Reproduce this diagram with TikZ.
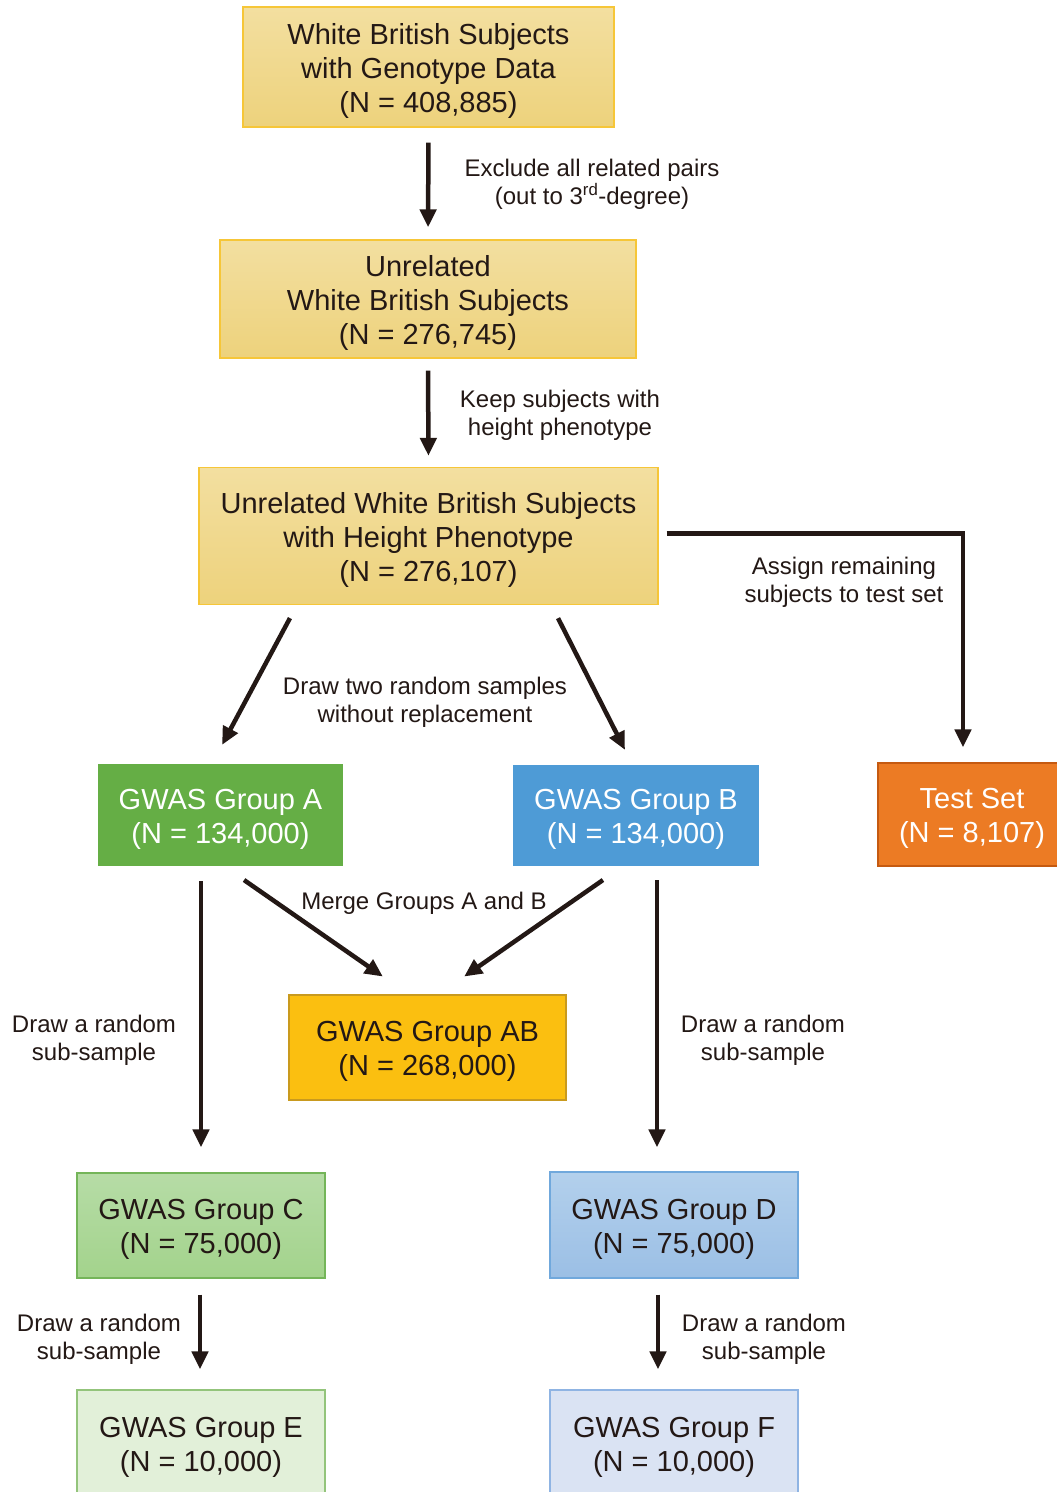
\documentclass[tikz,border=0pt]{standalone}
\usepackage{fontspec}
\setmainfont{Liberation Sans}
\usetikzlibrary{arrows.meta,calc}
\definecolor{ink}{HTML}{231815}
\definecolor{ylTop}{HTML}{F3DFA0}
\definecolor{ylBot}{HTML}{EDD27C}
\definecolor{ylLine}{HTML}{F6C638}
\definecolor{grA}{HTML}{65AE45}
\definecolor{blB}{HTML}{4E9BD6}
\definecolor{orT}{HTML}{EC7B24}
\definecolor{orLine}{HTML}{C55A11}
\definecolor{gold}{HTML}{FBBF10}
\definecolor{goldLine}{HTML}{C99A1E}
\definecolor{grCt}{HTML}{B6DCA6}
\definecolor{grCb}{HTML}{A3D38C}
\definecolor{grCl}{HTML}{74B559}
\definecolor{blDt}{HTML}{B3D0EC}
\definecolor{blDb}{HTML}{9BBFE5}
\definecolor{blDl}{HTML}{70A8DC}
\definecolor{grE}{HTML}{E2F0D9}
\definecolor{grEl}{HTML}{93C47B}
\definecolor{blF}{HTML}{DAE3F3}
\definecolor{blFl}{HTML}{8FB4E3}
\newcommand{\bstrut}{\rule{0pt}{28pt}}
\newcommand{\lstrut}{\rule{0pt}{21.5pt}}
\tikzset{
  box/.style={rectangle, draw, line width=1.3pt, align=center, text=ink,
    inner sep=0pt, font=\fontsize{29}{34}\selectfont},
  ybox/.style={box, top color=ylTop, bottom color=ylBot, draw=ylLine},
  lbl/.style={align=center, text=ink, inner sep=0pt, font=\fontsize{24}{28}\selectfont},
  arr/.style={draw=ink, line width=4.5pt, -{Triangle[width=16pt,length=18pt]}},
}
\begin{document}
\begin{tikzpicture}[x=1pt,y=-1pt]
\clip (0,0) rectangle (1057,1492);
\fill[white] (0,0) rectangle (1057,1492);
% boxes
\node[ybox, minimum width=371pt, minimum height=120pt] (n1) at (428.5,67)
  {\bstrut White British Subjects\\with Genotype Data\\(N = 408,885)};
\node[ybox, minimum width=416pt, minimum height=118pt] (n2) at (428,299)
  {\bstrut Unrelated\\White British Subjects\\(N = 276,745)};
\node[ybox, minimum width=459pt, minimum height=137pt] (n3) at (428.5,536)
  {\bstrut Unrelated White British Subjects\\with Height Phenotype\\(N = 276,107)};
\node[box, fill=grA, draw=grA, text=white, minimum width=243pt, minimum height=101pt] (nA) at (220.5,815)
  {\bstrut GWAS Group A\\(N = 134,000)};
\node[box, fill=blB, draw=blB, text=white, minimum width=244pt, minimum height=100pt] (nB) at (636,815.5)
  {\bstrut GWAS Group B\\(N = 134,000)};
\node[box, fill=orT, draw=orLine, text=white, minimum width=188pt, minimum height=103pt] (nT) at (972,814.5)
  {\bstrut Test Set\\(N = 8,107)};
\node[box, fill=gold, draw=goldLine, minimum width=277pt, minimum height=105pt] (nAB) at (427.5,1047.5)
  {\bstrut GWAS Group AB\\(N = 268,000)};
\node[box, top color=grCt, bottom color=grCb, draw=grCl, minimum width=248pt, minimum height=105pt] (nC) at (201,1225.5)
  {\bstrut GWAS Group C\\(N = 75,000)};
\node[box, top color=blDt, bottom color=blDb, draw=blDl, minimum width=248pt, minimum height=106pt] (nD) at (674,1225)
  {\bstrut GWAS Group D\\(N = 75,000)};
\node[box, fill=grE, draw=grEl, minimum width=248pt, minimum height=107pt] (nE) at (201,1443.5)
  {\bstrut GWAS Group E\\(N = 10,000)};
\node[box, fill=blF, draw=blFl, minimum width=248pt, minimum height=107pt] (nF) at (674,1443.5)
  {\bstrut GWAS Group F\\(N = 10,000)};
% labels
\node[lbl] (l1) at (592,182) {\lstrut Exclude all related pairs\\(out to 3\textsuperscript{rd}-degree)};
\node[lbl] (l2) at (560,413) {\lstrut Keep subjects with\\height phenotype};
\node[lbl] (l3) at (844,580) {\lstrut Assign remaining\\subjects to test set};
\node[lbl] (l4) at (425,700) {\lstrut Draw two random samples\\without replacement};
\node[lbl] (l5) at (424,901) {\lstrut Merge Groups A and B};
\node[lbl] (l6) at (94,1038.5) {\lstrut Draw a random\\sub-sample};
\node[lbl] (l7) at (763,1038.5) {\lstrut Draw a random\\sub-sample};
\node[lbl] (l8) at (99,1337) {\lstrut Draw a random\\sub-sample};
\node[lbl] (l9) at (764,1337) {\lstrut Draw a random\\sub-sample};
% connectors
\draw[arr, shorten <=15pt, shorten >=12pt] (n1.south) -- (n2.north);
\draw[arr, shorten <=12pt, shorten >=11pt] (n2.south) -- (n3.north);
\draw[arr, shorten <=14.7pt, shorten >=21.5pt] ([xshift=-131.6pt]n3.south) -- ([xshift=-8.6pt]nA.north);
\draw[arr, shorten <=14.6pt, shorten >=16.8pt] ([xshift=122.9pt]n3.south) -- ([xshift=-3.4pt]nB.north);
\draw[arr, shorten >=15pt, line join=miter] ([shift={(8,-2.5)}]n3.east) -| ([xshift=-9pt]nT.north);
\draw[arr, shorten <=24.3pt, shorten >=31.2pt] ([xshift=3.6pt]nA.south) -- ([xshift=-19pt]nAB.north);
\draw[arr, shorten <=24.3pt, shorten >=31.2pt] ([xshift=-13.1pt]nB.south) -- ([xshift=11pt]nAB.north);
\draw[arr, shorten <=15pt, shorten >=25pt] ([xshift=-19.5pt]nA.south) -- (nC.north);
\draw[arr, shorten <=14pt, shorten >=24pt] ([xshift=21pt]nB.south) -- ([xshift=-17pt]nD.north);
\draw[arr, shorten <=16pt, shorten >=20pt] ([xshift=-1pt]nC.south) -- ([xshift=-1pt]nE.north);
\draw[arr, shorten <=16pt, shorten >=20pt] ([xshift=-16pt]nD.south) -- ([xshift=-16pt]nF.north);
\end{tikzpicture}
\end{document}
